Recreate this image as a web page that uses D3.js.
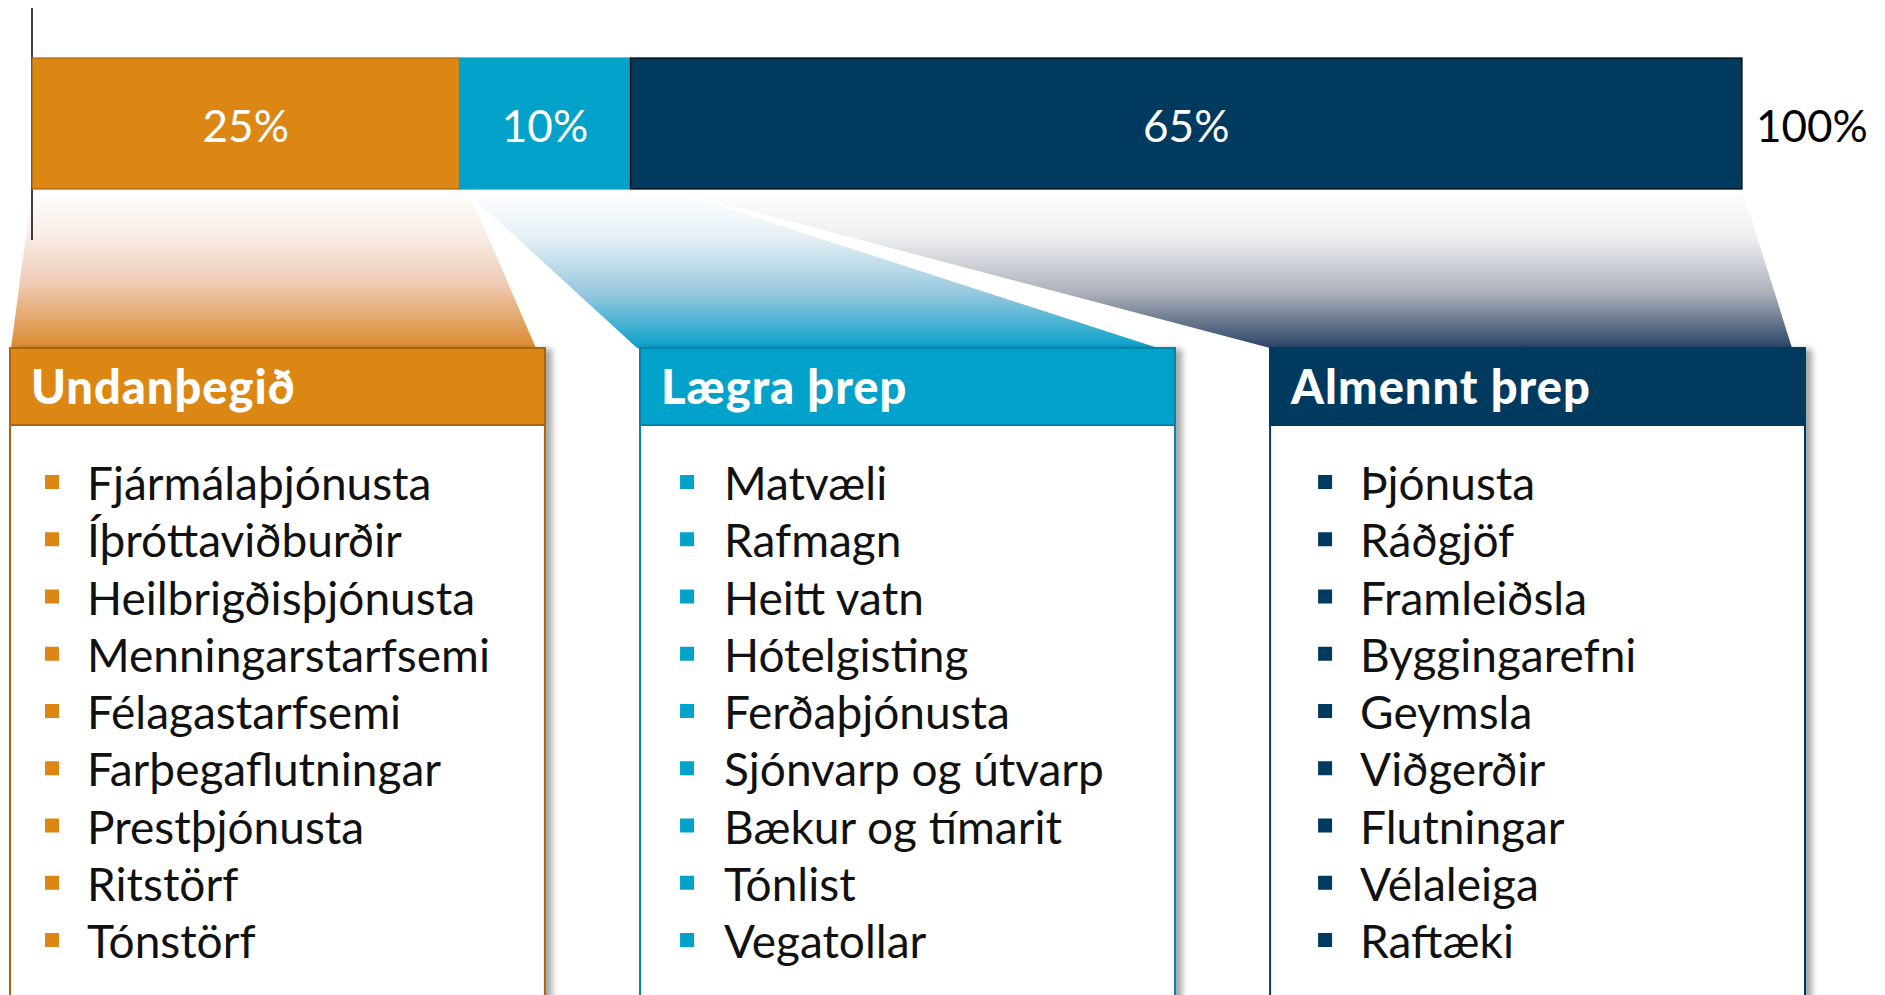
<!DOCTYPE html>
<html><head><meta charset="utf-8">
<script src="https://cdn.jsdelivr.net/npm/d3@7"></script>
<style>html,body{margin:0;padding:0;background:#fff;overflow:hidden}</style>
</head><body><svg id="c" width="1885" height="995"></svg>
<script>
// ---- data ----
const categories = ["Undanþegið", "Lægra þrep", "Almennt þrep"];
const shares = [25, 10, 65];
const shareLabels = ["25%", "10%", "65%"];
const totalLabel = "100%";
const itemsUndanthegid = ["Fjármálaþjónusta","Íþróttaviðburðir","Heilbrigðisþjónusta","Menningarstarfsemi","Félagastarfsemi","Farþegaflutningar","Prestþjónusta","Ritstörf","Tónstörf"];
const itemsLaegra = ["Matvæli","Rafmagn","Heitt vatn","Hótelgisting","Ferðaþjónusta","Sjónvarp og útvarp","Bækur og tímarit","Tónlist","Vegatollar"];
const itemsAlmennt = ["Þjónusta","Ráðgjöf","Framleiðsla","Byggingarefni","Geymsla","Viðgerðir","Flutningar","Vélaleiga","Raftæki"];
const itemLists = [itemsUndanthegid, itemsLaegra, itemsAlmennt];

// ---- styles ----
const colors = ["#DC8714", "#02A2CA", "#003A5F"];
const barStroke = ["#A9650F", "#02A2CA", "#000000"];
const boxStroke = ["#A9650F", "#0085A8", "#003A5F"];
const gradStops = [
  [[0,"#ffffff"],[0.3,"#f8ece6"],[0.6,"#eec9b2"],[1,"#dc8a2e"]],
  [[0,"#ffffff"],[0.3,"#e6f0f6"],[0.65,"#98c9df"],[1,"#0aa0cb"]],
  [[0,"#ffffff"],[0.3,"#eeeff1"],[0.65,"#aeb1bc"],[1,"#2a4366"]]
];
const fontFam = "Lato, 'Open Sans', sans-serif";

const svg = d3.select("#c");
const defs = svg.append("defs");

// scales
const x = d3.scaleLinear().domain([0, 100]).range([32, 1742]);
const barTop = 58, barBottom = 189;
const boxX = d3.scaleBand().domain(categories).range([10, 1805]).paddingInner(0.151).paddingOuter(0);
const boxTop = 348, headBottom = 425;
const itemY = d3.scaleLinear().domain([0, 8]).range([500, 958]);

// stacked
let cum = 0;
const segs = shares.map((v, i) => { const s = {i, cat: categories[i], x0: cum, x1: cum + v, label: shareLabels[i]}; cum += v; return s; });

// gradients
segs.forEach(s => {
  const g = defs.append("linearGradient").attr("id", "g" + s.i)
    .attr("gradientUnits", "userSpaceOnUse").attr("x1", 0).attr("x2", 0).attr("y1", barBottom).attr("y2", boxTop);
  gradStops[s.i].forEach(st => g.append("stop").attr("offset", st[0]).attr("stop-color", st[1]));
});
const f = defs.append("filter").attr("id", "sh").attr("x", "-5%").attr("y", "-5%").attr("width", "115%").attr("height", "115%");
f.append("feDropShadow").attr("dx", 6).attr("dy", 2).attr("stdDeviation", 3).attr("flood-color", "#000").attr("flood-opacity", 0.35);

// funnels
const topAdj = [[0, 8], [4, 37], [37, 0]];
const botAdj = [[1, -9], [-3, -17], [0, -13]];
svg.append("g").selectAll("path").data(segs).join("path")
  .attr("d", s => {
    const bx = boxX(s.cat), bw = boxX.bandwidth();
    const pts = [
      [x(s.x0) + topAdj[s.i][0], barBottom],
      [x(s.x1) + topAdj[s.i][1], barBottom],
      [bx + bw + botAdj[s.i][1], boxTop],
      [bx + botAdj[s.i][0], boxTop]
    ];
    return d3.line()(pts) + "Z";
  })
  .attr("fill", s => `url(#g${s.i})`);

// axis line
svg.append("line").attr("x1", x(0)).attr("x2", x(0)).attr("y1", 8).attr("y2", 240)
  .attr("stroke", "#000").attr("stroke-width", 1.5);

// bars
svg.append("g").selectAll("rect").data(segs).join("rect")
  .attr("x", s => x(s.x0)).attr("width", s => x(s.x1) - x(s.x0))
  .attr("y", barTop).attr("height", barBottom - barTop)
  .attr("fill", s => colors[s.i]).attr("stroke", s => barStroke[s.i]).attr("stroke-width", 1.2);

svg.append("g").selectAll("text").data(segs).join("text")
  .attr("x", s => (x(s.x0) + x(s.x1)) / 2).attr("y", 142)
  .attr("text-anchor", "middle").attr("fill", "#fff")
  .style("font-family", fontFam).style("font-size", "44px")
  .text(s => s.label);

svg.append("text").attr("x", x(100) + 14).attr("y", 142).attr("fill", "#000")
  .style("font-family", fontFam).style("font-size", "44px").text(totalLabel);

// boxes
const textOff = [77, 84, 90], bulletOff = [35, 40, 48];
const boxes = svg.append("g").selectAll("g").data(segs).join("g");
boxes.append("rect").attr("x", s => boxX(s.cat)).attr("y", boxTop)
  .attr("width", boxX.bandwidth()).attr("height", 700)
  .attr("fill", "#fff").attr("stroke", s => boxStroke[s.i]).attr("stroke-width", 2)
  .attr("filter", "url(#sh)");
boxes.append("rect").attr("x", s => boxX(s.cat)).attr("y", boxTop)
  .attr("width", boxX.bandwidth()).attr("height", headBottom - boxTop)
  .attr("fill", s => colors[s.i]).attr("stroke", s => boxStroke[s.i]).attr("stroke-width", 2);
boxes.append("text").attr("x", s => boxX(s.cat) + 21).attr("y", 404)
  .attr("fill", "#fff").style("font-family", fontFam).style("font-weight", 900).style("font-size", "47px")
  .style("letter-spacing", "1px")
  .text(s => s.cat);

boxes.each(function(s) {
  const g = d3.select(this);
  const bx = boxX(s.cat);
  const items = itemLists[s.i];
  g.selectAll("rect.b").data(items).join("rect").attr("class", "b")
    .attr("x", bx + bulletOff[s.i]).attr("y", (d, k) => itemY(k) - 25)
    .attr("width", 14).attr("height", 14).attr("fill", colors[s.i]);
  g.selectAll("text.it").data(items).join("text").attr("class", "it")
    .attr("x", bx + textOff[s.i]).attr("y", (d, k) => itemY(k))
    .attr("fill", "#111").style("font-family", fontFam).style("font-size", "46px")
    .text(d => d);
});
</script>
</body></html>
